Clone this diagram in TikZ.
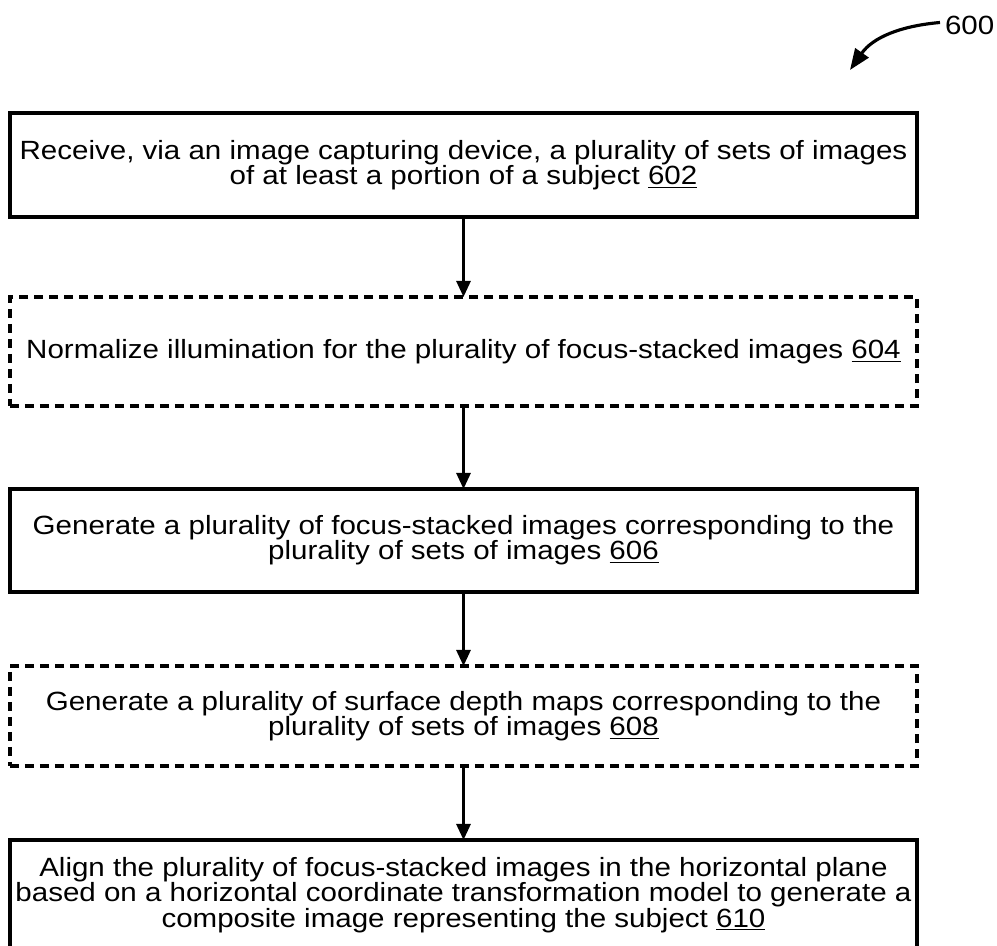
\documentclass[tikz,border=0pt]{standalone}
\usepackage{fontspec}
\setmainfont[FakeStretch=1.12]{Liberation Sans}
\usetikzlibrary{arrows.meta}
\tikzstyle{every node}=[font=\fontsize{15}{14.4}\selectfont, inner sep=0, outer sep=0]
\tikzstyle{stepbox}=[draw, line width=1.8pt, minimum width=18.14cm, align=center]
\tikzstyle{optbox}=[draw, line width=1.8pt, dash pattern=on 0.18cm off 0.12cm, minimum width=18.14cm, align=center]
\tikzstyle{flow}=[line width=1.6pt, -{Triangle[width=0.28cm,length=0.32cm]}]

\begin{document}
\begin{tikzpicture}
		\useasboundingbox (0,0) rectangle (19.94,-18.92);
		\node[stepbox,minimum height=2.08cm] (s602) at (9.27,-3.3) {Receive, via an image capturing device, a plurality of sets of images\\of at least a portion of a subject \underline{602}};
		\node[optbox,minimum height=2.18cm] (s604) at (9.27,-7.03) {Normalize illumination for the plurality of focus-stacked images \underline{604}};
		\node[stepbox,minimum height=2.06cm] (s606) at (9.27,-10.81) {Generate a plurality of focus-stacked images corresponding to the\\plurality of sets of images \underline{606}};
		\node[optbox,minimum height=2.0cm] (s608) at (9.27,-14.32) {Generate a plurality of surface depth maps corresponding to the\\plurality of sets of images \underline{608}};
		\node[stepbox,minimum height=2.2cm] (s610) at (9.27,-17.9) {Align the plurality of focus-stacked images in the horizontal plane\\based on a horizontal coordinate transformation model to generate a\\composite image representing the subject \underline{610}};
		\node[anchor=west] (fig) at (18.9,-0.5) {600};
		\coordinate (figtip) at (17.0,-1.4);
		\draw[flow] (s602.south) -- (s604.north);
		\draw[flow] (s604.south) -- (s606.north);
		\draw[flow] (s606.south) -- (s608.north);
		\draw[flow] (s608.south) -- (s610.north);
		\draw[line width=1.8pt,-{Triangle[width=0.32cm,length=0.42cm]}] (fig.west) ++(-0.1,0.05) to[out=185,in=55] (figtip);
	\end{tikzpicture}
\end{document}
